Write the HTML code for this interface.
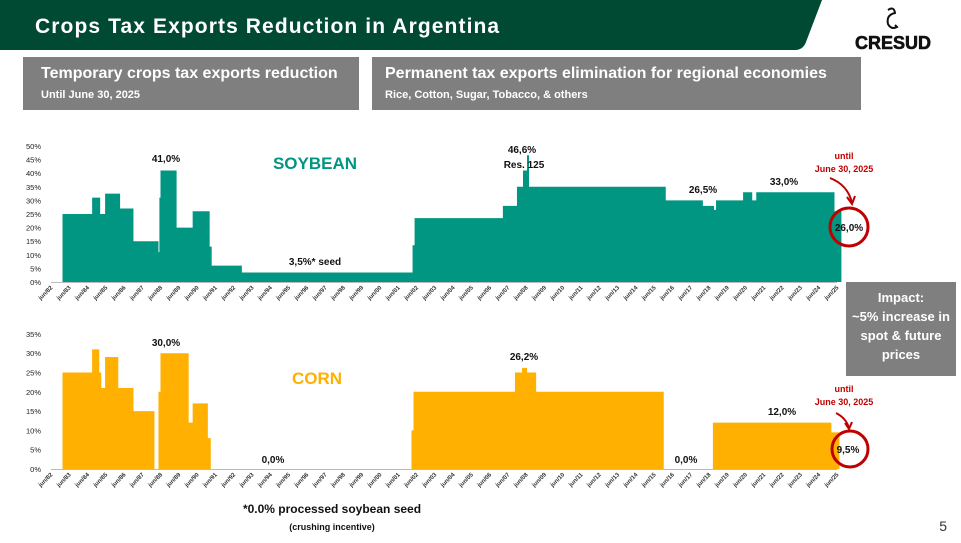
<!DOCTYPE html>
<html><head><meta charset="utf-8"><style>
body{margin:0;width:961px;height:543px;overflow:hidden;background:#fff;font-family:"Liberation Sans",sans-serif;position:relative}
.box{position:absolute;background:#7f7f7f;color:#fff;font-weight:bold}
</style></head><body>
<svg width="961" height="543" style="position:absolute;left:0;top:0">
<path d="M0 0 H822 L806 42 Q803 50 795 50 H0 Z" fill="#004a33"/>
<text x="35" y="33" fill="#fff" font-size="21" font-weight="bold" letter-spacing="1.1">Crops Tax Exports Reduction in Argentina</text>
<text x="893" y="49" font-size="18" font-weight="900" text-anchor="middle" fill="#111" stroke="#111" stroke-width="0.6">CRESUD</text>
<path d="M888 10 q6 -4 7 3 q-9 2 -7 11 q3 6 9 3 l-2 -2" stroke="#111" stroke-width="2" fill="none"/>
<g id="top"></g>
<g id="bot"></g>
<text x="315" y="169" fill="#009681" font-size="17" font-weight="bold" text-anchor="middle">SOYBEAN</text>
<text x="317" y="384" fill="#ffb000" font-size="17" font-weight="bold" text-anchor="middle">CORN</text>
<g font-size="10" font-weight="bold" fill="#111" text-anchor="middle">
<text x="166" y="162">41,0%</text><text x="315" y="265">3,5%* seed</text>
<text x="522" y="153">46,6%</text><text x="524" y="168">Res. 125</text>
<text x="703" y="193">26,5%</text><text x="784" y="185">33,0%</text>
<text x="849" y="231">26,0%</text>
<text x="166" y="346">30,0%</text><text x="273" y="463">0,0%</text>
<text x="524" y="360">26,2%</text><text x="686" y="463">0,0%</text>
<text x="782" y="415">12,0%</text><text x="848" y="453">9,5%</text>
<text x="332" y="513" font-size="12">*0.0% processed soybean seed</text>
<text x="332" y="530" font-size="9">(crushing incentive)</text>
</g>
<g fill="#c00000" font-size="9" font-weight="bold" text-anchor="middle">
<text x="844" y="159">until</text><text x="844" y="172">June 30, 2025</text>
<text x="844" y="392">until</text><text x="844" y="405">June 30, 2025</text>
</g>
<g stroke="#c00000" fill="none" stroke-width="3">
<circle cx="849" cy="227" r="19"/><circle cx="850" cy="449" r="18"/>
<path d="M830 178 Q848 185 852 203" stroke-width="2"/><path d="M847 197 l5 7 l3 -8" stroke-width="2"/>
<path d="M836 413 Q846 418 849 428" stroke-width="2"/><path d="M845 423 l4 6 l3 -7" stroke-width="2"/>
</g>
<text x="947" y="531" font-size="14" fill="#333" text-anchor="end">5</text>
</svg>
<div class="box" style="left:23px;top:57px;width:336px;height:53px"><div style="position:absolute;left:18px;top:8px;font-size:16px">Temporary crops tax exports reduction</div><div style="position:absolute;left:18px;top:32px;font-size:11px">Until June 30, 2025</div></div>
<div class="box" style="left:372px;top:57px;width:489px;height:53px"><div style="position:absolute;left:13px;top:8px;font-size:16px">Permanent tax exports elimination for regional economies</div><div style="position:absolute;left:13px;top:32px;font-size:11px">Rice, Cotton, Sugar, Tobacco, &amp; others</div></div>
<div class="box" style="left:846px;top:282px;width:110px;height:94px;text-align:center;font-size:13px;line-height:19px;padding-top:6px;box-sizing:border-box">Impact:<br>~5% increase in spot &amp; future prices</div>
<script>
const soyTimes=[1983.05,1984.67,1985.11,1985.38,1986.2,1986.93,1988.3,1988.35,1988.41,1989.29,1990.17,1991.1,1991.21,1992.86,2002.2,2002.31,2007.14,2007.91,2008.24,2008.46,2008.57,2016.05,2018.08,2018.69,2018.8,2020.28,2020.78,2021.0,2025.28,2025.66];
const soyValues=[25,31,25,32.5,27,15,11,31,41,20,26,13,6,3.5,13.5,23.5,28,35,41,46.6,35,30,28,26.5,30,33,30,33,26,26];
const cornTimes=[1983.05,1984.67,1985.06,1985.17,1985.38,1986.1,1986.93,1988.08,1988.3,1988.41,1989.95,1990.17,1991.0,1991.16,2002.14,2002.25,2007.8,2008.19,2008.46,2008.96,2015.94,2018.63,2025.11,2025.55];
const cornValues=[25,31,25,21,29,21,15,0,20,30,12,17,8,0,10,20,25,26.2,25,20,0,12,9.5,9.5];
const soyTicks=[0,5,10,15,20,25,30,35,40,45,50];
const cornTicks=[0,5,10,15,20,25,30,35];
const NS="http://www.w3.org/2000/svg";
const xS=t=>51+(t-1982.42)*18.28;
function chart(g,times,vals,ticks,y0,pxPer,color){
  const yS=v=>y0-v*pxPer;
  let d="M"+xS(times[0])+" "+y0;
  for(let i=0;i<times.length-1;i++){d+=" L"+xS(times[i])+" "+yS(vals[i])+" L"+xS(times[i+1])+" "+yS(vals[i]);}
  d+=" L"+xS(times[times.length-1])+" "+y0+" Z";
  const p=document.createElementNS(NS,"path");p.setAttribute("d",d);p.setAttribute("fill",color);
  
  
  g.appendChild(p);
  const ax=document.createElementNS(NS,"line");ax.setAttribute("x1",xS(1982.42));ax.setAttribute("x2",xS(2025.42));ax.setAttribute("y1",y0+0.5);ax.setAttribute("y2",y0+0.5);ax.setAttribute("stroke","#bbb");
  
  
  g.appendChild(ax);
  ticks.forEach(v=>{const t=document.createElementNS(NS,"text");t.setAttribute("x",41);t.setAttribute("y",yS(v)+3);t.setAttribute("font-size","7.5");t.setAttribute("text-anchor","end");t.setAttribute("fill","#222");t.textContent=v+"%";
    
    
    g.appendChild(t);});
  for(let k=0;k<=43;k++){const yr=(82+k)%100;const x=xS(1982.42+k);
    const t=document.createElementNS(NS,"text");t.setAttribute("transform","translate("+(x+2)+","+(y0+6)+") rotate(-45)");t.setAttribute("font-size","6");t.setAttribute("font-weight","bold");t.setAttribute("text-anchor","end");t.setAttribute("fill","#333");t.textContent="jun/"+String(yr).padStart(2,"0");
    
    
    g.appendChild(t);}
}
chart(document.getElementById("top"),soyTimes,soyValues,soyTicks,282,2.72,"#009681");
chart(document.getElementById("bot"),cornTimes,cornValues,cornTicks,469,3.86,"#ffb000");
</script>
</body></html>
